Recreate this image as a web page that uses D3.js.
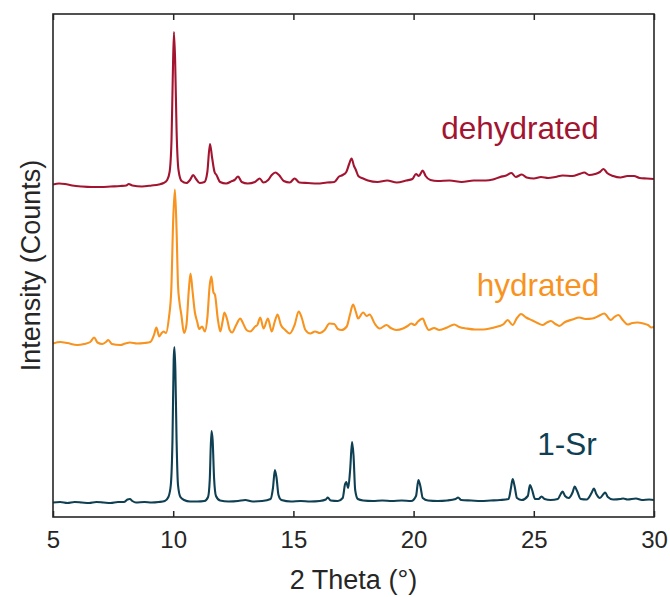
<!DOCTYPE html>
<html>
<head>
<meta charset="utf-8">
<script src="https://cdn.jsdelivr.net/npm/d3@7"></script>
<style>
  html, body { margin: 0; padding: 0; background: #ffffff; }
  svg { display: block; }
  text { font-family: "Liberation Sans", Arial, Helvetica, sans-serif; }
</style>
</head>
<body>
<svg id="chart" width="670" height="597"></svg>
<script>
// 2θ tick values on the x axis
const xTicks = [5, 10, 15, 20, 25, 30];

// Pattern names, drawn next to each trace
const seriesNames = ["dehydrated", "hydrated", "1-Sr"];

// Diffraction patterns, stacked with vertical offsets (arbitrary units)
const dehydrated2Theta = [5.0,5.25,5.5,5.8,6.2,6.6,7.0,7.4,7.8,8.05,8.15,8.3,8.7,9.1,9.4,9.6,9.75,9.85,9.93,9.98,10.03,10.08,10.14,10.22,10.35,10.55,10.7,10.83,10.95,11.1,11.3,11.42,11.53,11.62,11.72,11.8,11.95,12.2,12.45,12.55,12.7,12.85,13.1,13.4,13.6,13.75,13.95,14.1,14.25,14.4,14.6,14.85,15.05,15.25,15.6,16.0,16.4,16.7,16.9,17.05,17.2,17.32,17.42,17.52,17.6,17.7,17.9,18.1,18.5,18.9,19.3,19.7,19.95,20.1,20.22,20.38,20.5,20.7,21.0,21.5,22.0,22.5,23.0,23.3,23.6,23.85,24.07,24.25,24.5,24.7,25.0,25.3,25.6,25.9,26.2,26.6,26.9,27.1,27.3,27.55,27.75,27.9,28.05,28.3,28.6,28.9,29.17,29.4,29.7,30.0];
const dehydratedCounts = [665,667,666,663,661,660,660,661,662,663,666,663,661,663,665,668,674,690,754,874,970,914,774,694,672,668,674,684,676,668,670,690,746,718,690,684,670,667,672,674,681,670,667,670,677,669,674,684,689,684,672,669,677,669,668,667,669,670,681,684,690,706,717,702,694,682,677,673,670,673,669,673,676,686,682,693,682,674,672,673,670,673,673,675,680,683,688,680,685,679,677,680,678,680,683,682,686,689,684,686,690,696,688,682,679,682,682,678,677,676];

const hydrated2Theta = [5.0,5.3,5.6,6.0,6.3,6.55,6.71,6.85,7.05,7.2,7.3,7.45,7.8,8.0,8.2,8.5,8.8,9.05,9.2,9.3,9.42,9.52,9.6,9.7,9.82,9.92,10.0,10.07,10.14,10.2,10.26,10.34,10.45,10.55,10.65,10.72,10.8,10.9,11.0,11.08,11.2,11.32,11.42,11.52,11.59,11.67,11.74,11.85,11.96,12.05,12.13,12.25,12.35,12.45,12.62,12.79,12.9,13.05,13.2,13.41,13.5,13.62,13.76,13.94,14.1,14.22,14.34,14.48,14.66,14.85,15.05,15.22,15.35,15.5,15.7,15.9,16.1,16.3,16.5,16.7,16.85,17.0,17.22,17.35,17.48,17.6,17.69,17.9,18.05,18.17,18.38,18.59,18.87,19.05,19.28,19.56,19.75,19.9,20.05,20.18,20.38,20.5,20.63,20.85,21.07,21.4,21.69,21.9,22.2,22.55,22.9,23.25,23.57,23.75,23.91,24.12,24.3,24.47,24.68,24.95,25.15,25.36,25.55,25.71,25.9,26.06,26.3,26.61,26.89,27.15,27.44,27.7,27.93,28.2,28.35,28.52,28.7,28.9,29.1,29.3,29.56,29.75,29.9,30.0];
const hydratedCounts = [347,350,348,344,346,350,359,349,346,350,354,346,344,347,349,347,348,350,364,379,361,368,371,368,398,454,594,655,574,464,430,404,368,384,454,487,454,410,390,376,381,371,398,464,481,450,444,398,371,390,409,394,374,369,384,397,388,374,371,381,384,399,377,397,371,390,405,384,374,367,384,411,398,374,367,371,368,374,387,386,376,374,381,404,425,410,397,409,402,405,387,377,384,378,374,377,382,387,384,391,397,384,374,378,374,379,385,380,377,375,375,378,382,386,394,384,398,406,399,393,388,384,389,392,386,382,390,395,399,396,397,402,407,394,400,404,394,385,388,389,387,384,379,380];

const sr2Theta = [5.0,5.3,5.6,5.9,6.2,6.5,6.8,7.1,7.4,7.7,7.95,8.1,8.2,8.3,8.45,8.8,9.1,9.4,9.65,9.8,9.9,9.97,10.02,10.05,10.09,10.14,10.2,10.3,10.45,10.7,11.0,11.3,11.45,11.52,11.59,11.64,11.7,11.78,11.95,12.3,12.7,13.0,13.3,13.7,14.05,14.15,14.23,14.3,14.38,14.5,14.9,15.3,15.7,16.1,16.35,16.43,16.55,16.85,17.05,17.15,17.2,17.28,17.36,17.44,17.5,17.57,17.68,17.9,18.3,18.7,19.1,19.5,19.9,20.1,20.2,20.28,20.38,20.6,21.0,21.4,21.75,21.85,21.98,22.4,22.8,23.2,23.6,23.95,24.05,24.12,24.2,24.3,24.5,24.75,24.84,24.93,25.05,25.2,25.32,25.45,25.7,26.0,26.12,26.2,26.3,26.45,26.62,26.7,26.8,26.95,27.2,27.4,27.5,27.6,27.75,27.9,27.97,28.08,28.3,28.6,28.72,28.9,29.25,29.5,29.8,30.0];
const srCounts = [29,30,28,30,29,28,30,29,28,30,30,35,36,32,29,30,29,30,32,40,64,154,314,340,294,154,64,40,34,31,31,32,40,74,172,154,78,42,33,31,32,34,31,32,36,58,94,78,44,34,31,32,31,32,35,39,33,32,38,66,70,58,94,150,124,54,36,33,32,33,32,33,32,42,74,62,38,33,32,33,36,39,34,33,32,33,34,36,58,76,62,38,34,42,64,54,36,36,41,36,34,36,46,51,42,38,50,61,52,36,35,48,57,46,38,46,49,40,35,36,37,35,37,34,35,34];

const width = 670, height = 597;
const margin = { left: 53, right: 16, top: 14, bottom: 80 };
const plotW = width - margin.left - margin.right;
const plotH = height - margin.top - margin.bottom;

const ink = "#262626";
const colors = ["#a2142f", "#f7931e", "#0e3f52"];

const svg = d3.select("#chart");

const x = d3.scaleLinear().domain([5, 30]).range([margin.left, margin.left + plotW]);
const y = d3.scaleLinear().domain([0, 1006]).range([margin.top + plotH, margin.top]);

const series = [
  { name: seriesNames[0], xs: dehydrated2Theta, ys: dehydratedCounts, color: colors[0], lx: 520, ly: 139 },
  { name: seriesNames[1], xs: hydrated2Theta, ys: hydratedCounts, color: colors[1], lx: 538, ly: 296 },
  { name: seriesNames[2], xs: sr2Theta, ys: srCounts, color: colors[2], lx: 567, ly: 455 }
];

const line = d3.line()
  .x(d => x(d[0]))
  .y(d => y(d[1]))
  .curve(d3.curveMonotoneX);

svg.append("defs").append("clipPath").attr("id", "plot-clip")
  .append("rect")
  .attr("x", margin.left).attr("y", margin.top)
  .attr("width", plotW).attr("height", plotH);

const traces = svg.append("g").attr("clip-path", "url(#plot-clip)");
series.forEach(s => {
  const pts = s.xs.map((v, i) => [v, s.ys[i]]);
  traces.append("path")
    .datum(pts)
    .attr("fill", "none")
    .attr("stroke", s.color)
    .attr("stroke-width", 2.1)
    .attr("stroke-linejoin", "round")
    .attr("d", line);
});

// series labels
series.forEach(s => {
  svg.append("text")
    .attr("x", s.lx).attr("y", s.ly)
    .attr("text-anchor", "middle")
    .attr("fill", s.color)
    .attr("font-size", 31.5)
    .text(s.name);
});

// bottom axis with inward ticks
const bottomAxis = svg.append("g")
  .attr("transform", `translate(0,${margin.top + plotH})`)
  .call(d3.axisBottom(x).tickValues(xTicks).tickSizeInner(-6).tickSizeOuter(0).tickPadding(14).tickFormat(d3.format("d")));
bottomAxis.select(".domain").remove();
bottomAxis.selectAll(".tick line").attr("stroke", ink).attr("stroke-width", 1.5);
bottomAxis.selectAll(".tick text")
  .attr("fill", ink)
  .attr("font-size", 24)
  .attr("font-family", "'Liberation Sans', Arial, sans-serif");

// top axis mirrors the tick marks
const topAxis = svg.append("g")
  .attr("transform", `translate(0,${margin.top})`)
  .call(d3.axisTop(x).tickValues(xTicks).tickSizeInner(-6).tickSizeOuter(0).tickFormat(""));
topAxis.select(".domain").remove();
topAxis.selectAll(".tick line").attr("stroke", ink).attr("stroke-width", 1.5);

// frame
svg.append("rect")
  .attr("x", margin.left).attr("y", margin.top)
  .attr("width", plotW).attr("height", plotH)
  .attr("fill", "none")
  .attr("stroke", ink)
  .attr("stroke-width", 1.6);

// axis titles
svg.append("text")
  .attr("x", margin.left + plotW / 2)
  .attr("y", 589)
  .attr("text-anchor", "middle")
  .attr("fill", ink)
  .attr("font-size", 27)
  .text("2 Theta (°)");

svg.append("text")
  .attr("transform", `translate(40,${margin.top + plotH / 2}) rotate(-90)`)
  .attr("text-anchor", "middle")
  .attr("fill", ink)
  .attr("font-size", 27)
  .text("Intensity (Counts)");
</script>
</body>
</html>
